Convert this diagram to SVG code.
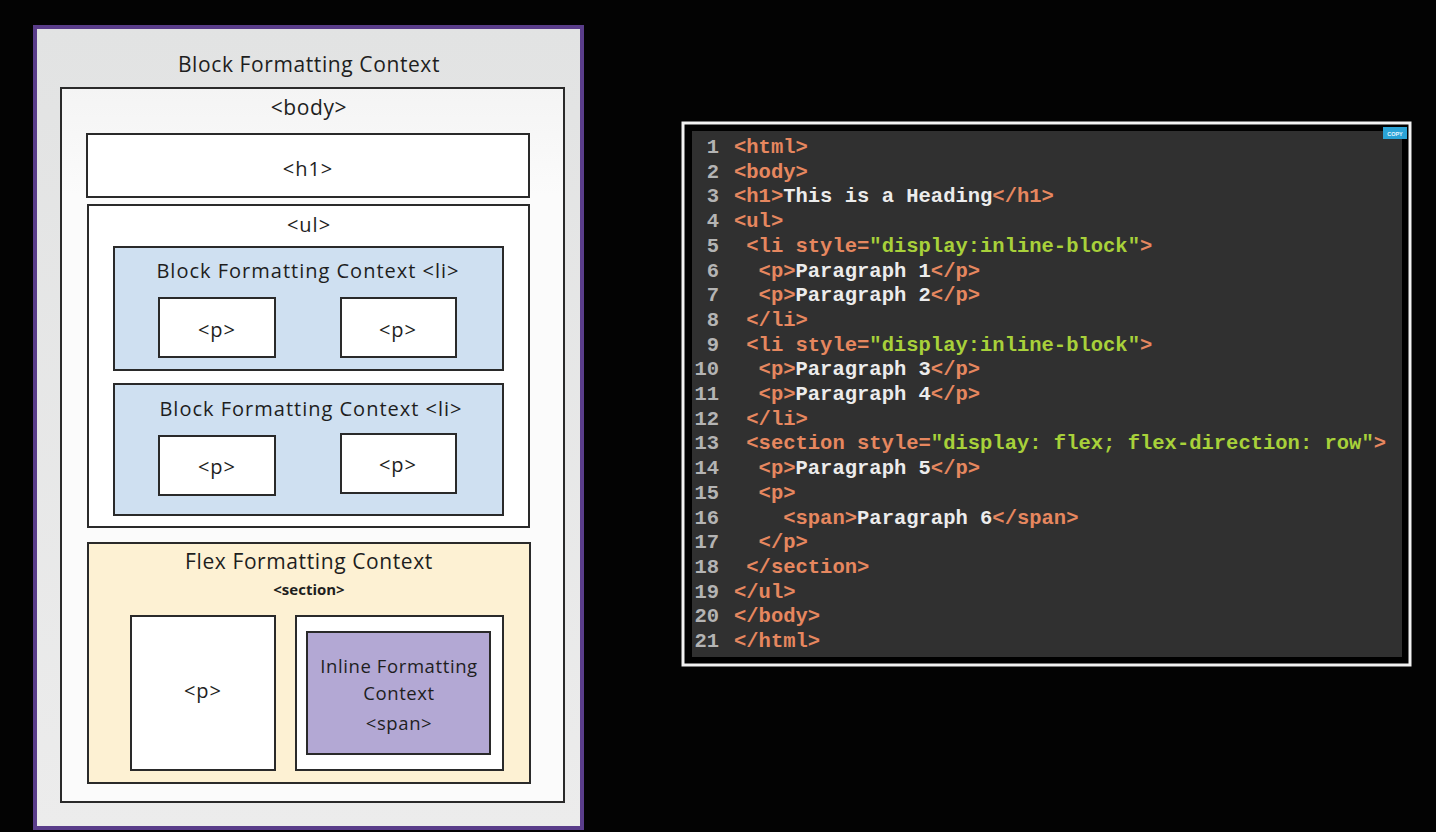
<svg xmlns="http://www.w3.org/2000/svg" width="1436" height="832" viewBox="0 0 1436 832">
<defs>
<linearGradient id="gOuter" x1="0" y1="0" x2="0" y2="1">
<stop offset="0" stop-color="#e2e3e3"/><stop offset="1" stop-color="#ececec"/>
</linearGradient>
<linearGradient id="gBody" x1="0" y1="0" x2="0" y2="1">
<stop offset="0" stop-color="#f4f4f4"/><stop offset="0.15" stop-color="#fbfbfb"/><stop offset="1" stop-color="#fbfbfb"/>
</linearGradient>
<style>
.box{stroke:#2a2a2a;stroke-width:2}
.lbl{font-family:"Open Sans","Liberation Sans",sans-serif;fill:#1e1e1e;text-anchor:middle;font-weight:500}
.t20{font-size:21px;letter-spacing:0.6px}
.t19{font-size:20px;letter-spacing:1px}
.sec{font-size:15px;font-weight:bold}
.code{font-family:"Liberation Mono","DejaVu Sans Mono",monospace;font-size:20.5px;font-weight:bold}
.num{fill:#b4b4b4;text-anchor:end;font-weight:bold}
.tg{fill:#e6875f}
.st{fill:#a8d13a}
.tx{fill:#ececec}
</style>
</defs>
<rect x="0" y="0" width="1436" height="832" fill="#030303"/>

<g id="bfc-root">
<rect x="35" y="27" width="547" height="801" fill="url(#gOuter)" stroke="#5a3d8a" stroke-width="4"/>
<text class="lbl t20" x="309" y="72">Block Formatting Context</text>
</g>

<g id="body">
<rect class="box" x="61" y="88" width="503" height="714" fill="url(#gBody)"/>
<text class="lbl t20" x="309" y="115">&lt;body&gt;</text>
</g>

<g id="h1">
<rect class="box" x="87" y="134" width="442" height="63" fill="#ffffff"/>
<text class="lbl t19" x="308" y="176">&lt;h1&gt;</text>
</g>

<g id="ul">
<rect class="box" x="88" y="205" width="441" height="322" fill="#ffffff"/>
<text class="lbl t19" x="309" y="232">&lt;ul&gt;</text>
</g>

<g id="li1">
<rect class="box" x="114" y="247" width="389" height="123" fill="#cfe0f1"/>
<text class="lbl t19" x="308" y="278">Block Formatting Context &lt;li&gt;</text>
</g>
<g id="p1">
<rect class="box" x="159" y="298" width="116" height="59" fill="#ffffff"/>
<text class="lbl t19" x="217" y="337">&lt;p&gt;</text>
</g>
<g id="p2">
<rect class="box" x="341" y="298" width="115" height="59" fill="#ffffff"/>
<text class="lbl t19" x="398" y="337">&lt;p&gt;</text>
</g>

<g id="li2">
<rect class="box" x="114" y="384" width="389" height="131" fill="#cfe0f1"/>
<text class="lbl t19" x="311" y="416">Block Formatting Context &lt;li&gt;</text>
</g>
<g id="p3">
<rect class="box" x="159" y="436" width="116" height="59" fill="#ffffff"/>
<text class="lbl t19" x="217" y="474">&lt;p&gt;</text>
</g>
<g id="p4">
<rect class="box" x="341" y="434" width="115" height="59" fill="#ffffff"/>
<text class="lbl t19" x="398" y="472">&lt;p&gt;</text>
</g>

<g id="flex">
<rect class="box" x="88" y="543" width="442" height="240" fill="#fdf1d3"/>
<text class="lbl t20" x="309" y="569">Flex Formatting Context</text>
<text class="lbl sec" x="309" y="595">&lt;section&gt;</text>
</g>
<g id="p5">
<rect class="box" x="131" y="616" width="144" height="154" fill="#ffffff"/>
<text class="lbl t19" x="203" y="698">&lt;p&gt;</text>
</g>
<g id="p6">
<rect class="box" x="296" y="616" width="207" height="154" fill="#ffffff"/>
</g>
<g id="span">
<rect class="box" x="307" y="632" width="183" height="122" fill="#b3a8d4"/>
<text class="lbl" x="399" y="673" font-size="18.5" letter-spacing="0.6">Inline Formatting</text>
<text class="lbl" x="399" y="700" font-size="18.5" letter-spacing="0.6">Context</text>
<text class="lbl" x="399" y="730" font-size="18.5" letter-spacing="0.6">&lt;span&gt;</text>
</g>

<g id="connectors"></g>

<g id="code-panel">
<rect x="683" y="123" width="727" height="542" fill="#000000" stroke="#f2f2f2" stroke-width="3"/>
<rect x="692" y="131" width="710" height="526" fill="#303030"/>
<rect x="1383" y="127" width="24" height="12" fill="#2ba3d6"/>
<text x="1395" y="135.5" font-family="Liberation Sans,sans-serif" font-size="5.5" font-weight="bold" fill="#e8f6ff" text-anchor="middle">COPY</text>

<g class="code">
<text class="num" x="719" y="153">1</text>
<text class="num" x="719" y="177.7">2</text>
<text class="num" x="719" y="202.4">3</text>
<text class="num" x="719" y="227.1">4</text>
<text class="num" x="719" y="251.8">5</text>
<text class="num" x="719" y="276.5">6</text>
<text class="num" x="719" y="301.2">7</text>
<text class="num" x="719" y="325.9">8</text>
<text class="num" x="719" y="350.6">9</text>
<text class="num" x="719" y="375.3">10</text>
<text class="num" x="719" y="400">11</text>
<text class="num" x="719" y="424.7">12</text>
<text class="num" x="719" y="449.4">13</text>
<text class="num" x="719" y="474.1">14</text>
<text class="num" x="719" y="498.8">15</text>
<text class="num" x="719" y="523.5">16</text>
<text class="num" x="719" y="548.2">17</text>
<text class="num" x="719" y="572.9">18</text>
<text class="num" x="719" y="597.6">19</text>
<text class="num" x="719" y="622.3">20</text>
<text class="num" x="719" y="647">21</text>

<text xml:space="preserve" x="734" y="153"><tspan class="tg">&lt;html&gt;</tspan></text>
<text xml:space="preserve" x="734" y="177.7"><tspan class="tg">&lt;body&gt;</tspan></text>
<text xml:space="preserve" x="734" y="202.4"><tspan class="tg">&lt;h1&gt;</tspan><tspan class="tx">This is a Heading</tspan><tspan class="tg">&lt;/h1&gt;</tspan></text>
<text xml:space="preserve" x="734" y="227.1"><tspan class="tg">&lt;ul&gt;</tspan></text>
<text xml:space="preserve" x="734" y="251.8"><tspan class="tg"> &lt;li style=</tspan><tspan class="st">"display:inline-block"</tspan><tspan class="tg">&gt;</tspan></text>
<text xml:space="preserve" x="734" y="276.5"><tspan class="tg">  &lt;p&gt;</tspan><tspan class="tx">Paragraph 1</tspan><tspan class="tg">&lt;/p&gt;</tspan></text>
<text xml:space="preserve" x="734" y="301.2"><tspan class="tg">  &lt;p&gt;</tspan><tspan class="tx">Paragraph 2</tspan><tspan class="tg">&lt;/p&gt;</tspan></text>
<text xml:space="preserve" x="734" y="325.9"><tspan class="tg"> &lt;/li&gt;</tspan></text>
<text xml:space="preserve" x="734" y="350.6"><tspan class="tg"> &lt;li style=</tspan><tspan class="st">"display:inline-block"</tspan><tspan class="tg">&gt;</tspan></text>
<text xml:space="preserve" x="734" y="375.3"><tspan class="tg">  &lt;p&gt;</tspan><tspan class="tx">Paragraph 3</tspan><tspan class="tg">&lt;/p&gt;</tspan></text>
<text xml:space="preserve" x="734" y="400"><tspan class="tg">  &lt;p&gt;</tspan><tspan class="tx">Paragraph 4</tspan><tspan class="tg">&lt;/p&gt;</tspan></text>
<text xml:space="preserve" x="734" y="424.7"><tspan class="tg"> &lt;/li&gt;</tspan></text>
<text xml:space="preserve" x="734" y="449.4"><tspan class="tg"> &lt;section style=</tspan><tspan class="st">"display: flex; flex-direction: row"</tspan><tspan class="tg">&gt;</tspan></text>
<text xml:space="preserve" x="734" y="474.1"><tspan class="tg">  &lt;p&gt;</tspan><tspan class="tx">Paragraph 5</tspan><tspan class="tg">&lt;/p&gt;</tspan></text>
<text xml:space="preserve" x="734" y="498.8"><tspan class="tg">  &lt;p&gt;</tspan></text>
<text xml:space="preserve" x="734" y="523.5"><tspan class="tg">    &lt;span&gt;</tspan><tspan class="tx">Paragraph 6</tspan><tspan class="tg">&lt;/span&gt;</tspan></text>
<text xml:space="preserve" x="734" y="548.2"><tspan class="tg">  &lt;/p&gt;</tspan></text>
<text xml:space="preserve" x="734" y="572.9"><tspan class="tg"> &lt;/section&gt;</tspan></text>
<text xml:space="preserve" x="734" y="597.6"><tspan class="tg">&lt;/ul&gt;</tspan></text>
<text xml:space="preserve" x="734" y="622.3"><tspan class="tg">&lt;/body&gt;</tspan></text>
<text xml:space="preserve" x="734" y="647"><tspan class="tg">&lt;/html&gt;</tspan></text>
</g>
</g>
</svg>
